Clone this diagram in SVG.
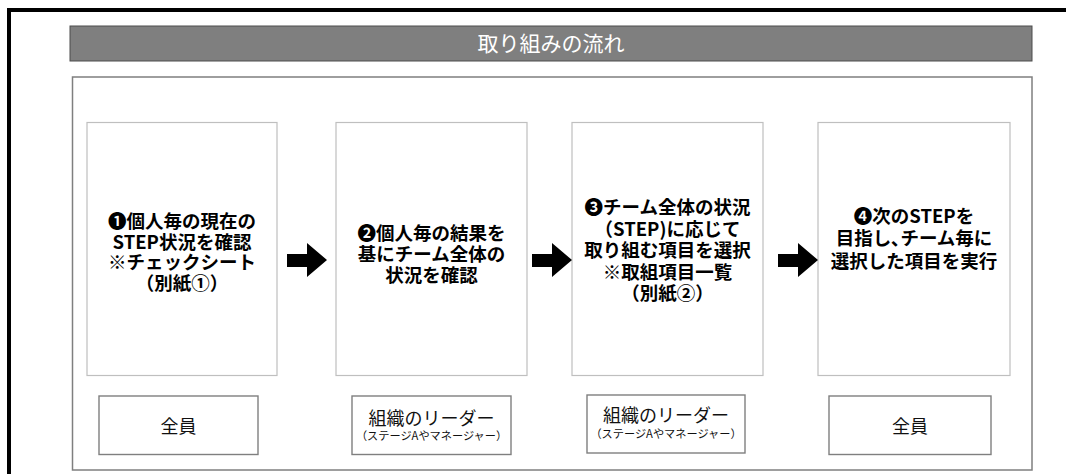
<svg xmlns="http://www.w3.org/2000/svg" width="1066" height="474" viewBox="0 0 1066 474">
<style>
.step{fill:#fff;stroke:#bfbfbf;stroke-width:1.2}
.who{fill:#fff;stroke:#7f7f7f;stroke-width:1.4}
.st{font-family:"Noto Sans CJK JP","Noto Sans",sans-serif;font-weight:bold;font-size:18.5px;fill:#000;text-anchor:middle}
.wt{font-family:"Noto Sans CJK JP","Noto Sans",sans-serif;font-size:18px;fill:#111;text-anchor:middle}
.ws{font-family:"Noto Sans CJK JP","Noto Sans",sans-serif;font-size:11.2px;fill:#111;text-anchor:middle}
.arr{fill:#000}
</style>
<rect x="0" y="0" width="1066" height="474" fill="#fff"/>
<rect x="9" y="10" width="1100" height="500" fill="none" stroke="#000" stroke-width="4"/>
<g id="title">
<rect x="70" y="26" width="962" height="35" fill="#7f7f7f" stroke="#4d4d4d" stroke-width="1"/>
<text x="551" y="51" font-family="'Noto Sans CJK JP','Noto Sans',sans-serif" font-size="21" fill="#fff" text-anchor="middle">取り組みの流れ</text>
</g>
<rect id="panel" x="72.5" y="77" width="959.5" height="393" fill="#fff" stroke="#7f7f7f" stroke-width="1.5"/>
<g id="step1">
<rect class="step" x="87" y="122.5" width="190" height="253"/>
<text class="st" x="182" y="228">❶個人毎の現在の</text>
<text class="st" x="182" y="248.5">STEP状況を確認</text>
<text class="st" x="182" y="269">※チェックシート</text>
<text class="st" x="182" y="290">（別紙①）</text>
</g>
<g id="step2">
<rect class="step" x="336" y="122.5" width="191" height="253"/>
<text class="st" x="431.5" y="240">❷個人毎の結果を</text>
<text class="st" x="431.5" y="261">基にチーム全体の</text>
<text class="st" x="431.5" y="282">状況を確認</text>
</g>
<g id="step3">
<rect class="step" x="572" y="122.5" width="191" height="253"/>
<text class="st" x="667.5" y="214">❸チーム全体の状況</text>
<text class="st" x="667.5" y="235.5">（STEP)に応じて</text>
<text class="st" x="667.5" y="257">取り組む項目を選択</text>
<text class="st" x="667.5" y="278.5">※取組項目一覧</text>
<text class="st" x="667.5" y="300">（別紙②）</text>
</g>
<g id="step4">
<rect class="step" x="818" y="122.5" width="192" height="253"/>
<text class="st" x="914" y="223">❹次のSTEPを</text>
<text class="st" x="914" y="245">目指し､チーム毎に</text>
<text class="st" x="914" y="268">選択した項目を実行</text>
</g>
<g id="who1">
<rect class="who" x="99" y="396" width="159" height="58.5"/>
<text class="wt" x="178.5" y="433">全員</text>
</g>
<g id="who2">
<rect class="who" x="352" y="396" width="159" height="58.5"/>
<text class="wt" x="431.5" y="425">組織のリーダー</text>
<text class="ws" x="431.5" y="440">（ステージAやマネージャー）</text>
</g>
<g id="who3">
<rect class="who" x="587" y="395" width="158" height="58"/>
<text class="wt" x="666" y="422">組織のリーダー</text>
<text class="ws" x="666" y="437.5">（ステージAやマネージャー）</text>
</g>
<g id="who4">
<rect class="who" x="829" y="396" width="162" height="58.5"/>
<text class="wt" x="910" y="433">全員</text>
</g>
<g id="connectors">
<polygon class="arr" points="287,254 307,254 307,243 327,260 307,277 307,267 287,267"/>
<polygon class="arr" points="532,254 552,254 552,243 572,260 552,277 552,267 532,267"/>
<polygon class="arr" points="778,254 798,254 798,243 818,260 798,277 798,267 778,267"/>
</g>
</svg>
